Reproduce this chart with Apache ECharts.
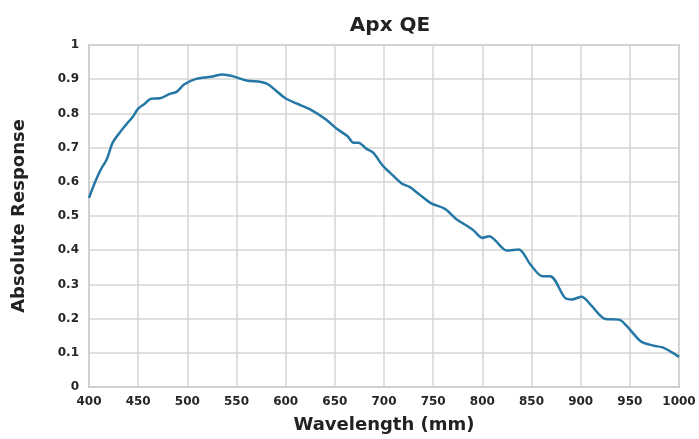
<!DOCTYPE html>
<html>
<head>
<meta charset="utf-8">
<script src="https://cdn.jsdelivr.net/npm/echarts@6/dist/echarts.min.js"></script>
<style>
html,body{margin:0;padding:0;background:#fff;}
#chart{width:699px;height:439px;}
</style>
</head>
<body>
<div id="chart"></div>
<script>
var wavelengths = [400,406,412,418,424,431,438,445,450,457,463,472,482,489,497,509,524,536,546,560,575,582,599,611,624,641,652,663,669,674,682,689,699,706,718,726,736,748,762,774,785,791,800,807,825,837,849,861,869,884,891,901,910,925,939,947,961,974,984,1000];
var response = [0.553,0.598,0.636,0.665,0.714,0.743,0.768,0.792,0.814,0.829,0.843,0.844,0.857,0.863,0.885,0.901,0.907,0.914,0.909,0.896,0.892,0.885,0.846,0.829,0.813,0.782,0.755,0.733,0.714,0.714,0.697,0.685,0.646,0.627,0.595,0.585,0.563,0.537,0.521,0.490,0.470,0.458,0.436,0.441,0.399,0.402,0.358,0.324,0.324,0.261,0.256,0.264,0.241,0.199,0.197,0.178,0.134,0.121,0.115,0.088];
var xTicks = [400,450,500,550,600,650,700,750,800,850,900,950,1000];
var yTicks = [0,0.1,0.2,0.3,0.4,0.5,0.6,0.7,0.8,0.9,1];

var points = wavelengths.map(function(w,i){return [w,response[i]];});
var font = '"DejaVu Sans", sans-serif';
var chart = echarts.init(document.getElementById('chart'));
chart.setOption({
  animation:false,
  title:{text:'Apx QE',left:385,top:11,textAlign:'center',
    textStyle:{fontFamily:font,fontWeight:'bold',fontSize:20,color:'#222'}},
  grid:{left:89,right:20,top:45,bottom:51,show:true,borderColor:'#cfcfcf',borderWidth:2,backgroundColor:'transparent'},
  xAxis:{type:'value',min:400,max:1000,interval:50,
    name:'Wavelength (mm)',nameLocation:'middle',nameGap:29,
    nameTextStyle:{fontFamily:font,fontWeight:'bold',fontSize:18,color:'#222'},
    axisLine:{show:true,lineStyle:{color:'#cfcfcf',width:2}},
    axisTick:{show:false},
    axisLabel:{fontFamily:font,fontWeight:'bold',fontSize:12,color:'#262626',margin:9,
      formatter:function(v){return xTicks.indexOf(v)>=0?String(v):'';}},
    splitLine:{show:true,lineStyle:{color:'#d4d4d4',width:1.5}}},
  yAxis:{type:'value',min:0,max:1,interval:0.1,
    name:'Absolute Response',nameLocation:'middle',nameGap:61,
    nameTextStyle:{fontFamily:font,fontWeight:'bold',fontSize:18,color:'#222'},
    axisLine:{show:true,lineStyle:{color:'#cfcfcf',width:2}},
    axisTick:{show:false},
    axisLabel:{fontFamily:font,fontWeight:'bold',fontSize:12,color:'#262626',margin:10,
      formatter:function(v){var r=Math.round(v*10)/10;return yTicks.indexOf(r)>=0?String(r):'';}},
    splitLine:{show:true,lineStyle:{color:'#d4d4d4',width:1.5}}},
  series:[{type:'line',data:points,smooth:0.3,showSymbol:false,
    lineStyle:{color:'#2577a5',width:2.5}}]
});
</script>
</body>
</html>
